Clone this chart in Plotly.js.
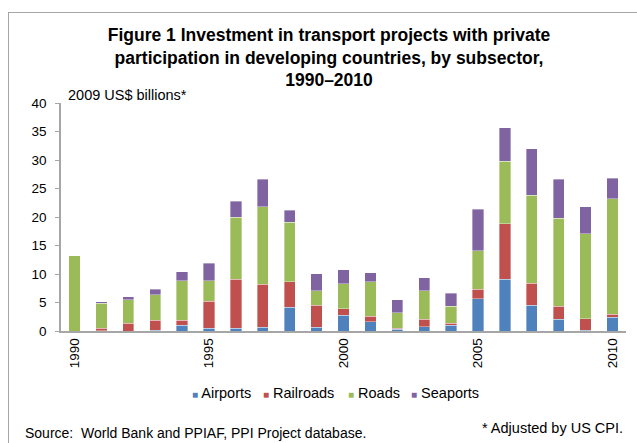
<!DOCTYPE html>
<html>
<head>
<meta charset="utf-8">
<script src="https://cdn.plot.ly/plotly-3.0.1.min.js"></script>
<style>
  html, body { margin: 0; padding: 0; background: #ffffff; }
  #wrap { position: relative; width: 637px; height: 443px; overflow: hidden; }
  #chart { position: absolute; left: 0; top: 0; width: 637px; height: 443px; }
  #frame { position: absolute; left: 8px; top: 12px; width: 700px; height: 500px;
           border-left: 1.5px solid #a6a6a6; border-top: 1.5px solid #a6a6a6; pointer-events: none; }
</style>
</head>
<body>
<div id="wrap">
  <div id="chart"></div>
  <div id="frame"></div>
</div>
<script>
const years = [1990,1991,1992,1993,1994,1995,1996,1997,1998,1999,2000,2001,2002,2003,2004,2005,2006,2007,2008,2009,2010];
const airports  = [0,   0.05,0,   0.1, 1.05,0.5, 0.5, 0.7, 4.2, 0.7, 2.8, 1.63,0.35,0.75,1.0, 5.65,9.1, 4.55,2.1, 0.1, 2.45];
const railroads = [0,   0.4, 1.4, 1.75,0.8, 4.75,8.6, 7.46,4.48,3.85,1.1, 0.93,0.17,1.28,0.4, 1.7, 9.73,3.85,2.2, 2.05,0.45];
const roads     = [13.2,4.4, 4.1, 4.55,7.0, 3.6, 10.9,13.64,10.42,2.5,4.38,6.12,2.68,5.02,2.9, 6.7, 10.97,15.45,15.52,14.93,20.3];
const seaports  = [0,   0.25,0.5, 0.95,1.57,3.05,2.75,4.8, 2.07,3.03,2.45,1.57,2.28,2.28,2.35,7.35,5.9, 8.15,6.78,4.72,3.63];
const seriesNames = ["Airports","Railroads","Roads","Seaports"];
const tickYears = [1990,1995,2000,2005,2010];
const tickLabels = ["1990","1995","2000","2005","2010"];
const yTicks = [0,5,10,15,20,25,30,35,40];

const colors = ["#4F81BD","#C0504D","#9BBB59","#8064A2"];
const FONT = "Liberation Sans, Arial, sans-serif";
const values = [airports, railroads, roads, seaports];

const data = seriesNames.map((name, i) => ({
  type: "bar", name: name, x: years, y: values[i],
  marker: { color: colors[i], line: { color: "rgba(255,255,255,0.6)", width: 0.6 } },
  hoverinfo: "x+y+name", showlegend: false
}));

// legend drawn as text entries beneath the plot (compact, Excel-like spacing)
const legendX = [0.2283, 0.354, 0.5044, 0.616];
const legendAnn = seriesNames.map((name, i) => ({
  text: "<span style='color:" + colors[i] + ";font-size:10px'>■</span> " + name,
  xref: "paper", yref: "paper", x: legendX[i], y: -0.272,
  xanchor: "left", yanchor: "middle", showarrow: false,
  font: { family: FONT, size: 14.5, color: "#000" }
}));

const layout = {
  width: 637, height: 443,
  paper_bgcolor: "rgba(0,0,0,0)", plot_bgcolor: "rgba(0,0,0,0)",
  margin: { l: 61, r: 11, t: 103, b: 112, pad: 0 },
  barmode: "stack", bargap: 0.58,
  font: { family: FONT, size: 13, color: "#000" },
  title: {
    text: "Figure 1 Investment in transport projects with private<br>participation in developing countries, by subsector,<br>1990–2010",
    font: { family: FONT, size: 17.5, color: "#000", weight: "bold" },
    x: 0.5165, xanchor: "center", xref: "container",
    y: 0.9075, yanchor: "top", yref: "container"
  },
  xaxis: {
    type: "linear", range: [1989.5, 2010.5],
    tickvals: tickYears, ticktext: tickLabels, tickangle: -90,
    showgrid: false, zeroline: false, showline: true, linecolor: "#a6a6a6", linewidth: 1.5,
    ticks: "", tickfont: { family: FONT, size: 13.5, color: "#000" }, fixedrange: true
  },
  yaxis: {
    range: [0, 40], tickvals: yTicks, ticktext: yTicks.map(String),
    showgrid: false, zeroline: false, showline: true, linecolor: "#a6a6a6", linewidth: 1.5,
    ticks: "outside", ticklen: 4, tickcolor: "#a6a6a6", tickwidth: 1, ticklabelstandoff: 6,
    tickfont: { family: FONT, size: 13.5, color: "#000" }, fixedrange: true
  },
  showlegend: false,
  annotations: [
    { text: "2009 US$ billions*", xref: "paper", yref: "paper", x: 0.0095, y: 0.99,
      xanchor: "left", yanchor: "bottom", showarrow: false, font: { family: FONT, size: 14.5, color: "#000" } },
    { text: "Source:  World Bank and PPIAF, PPI Project database.", xref: "paper", yref: "paper",
      x: -0.0673, y: -0.447, xanchor: "left", yanchor: "middle", showarrow: false,
      font: { family: FONT, size: 14, color: "#000" } },
    { text: "* Adjusted by US CPI.", xref: "paper", yref: "paper",
      x: 0.998, y: -0.425, xanchor: "right", yanchor: "middle", showarrow: false,
      font: { family: FONT, size: 14.5, color: "#000" } }
  ].concat(legendAnn)
};

Plotly.newPlot("chart", data, layout, { displayModeBar: false });
</script>
</body>
</html>
